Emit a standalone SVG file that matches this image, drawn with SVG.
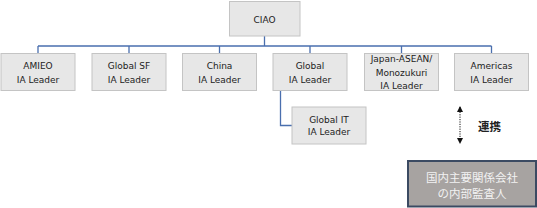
<svg xmlns="http://www.w3.org/2000/svg" width="537" height="208" viewBox="0 0 537 208">
<style>
.box{fill:#e7e7e7;stroke:#c4c4c4;stroke-width:1}
.t{font-family:"DejaVu Sans",Verdana,sans-serif;font-size:9px;fill:#222;text-anchor:middle}
.ln{fill:none;stroke:#4a6fae;stroke-width:1.3}
.jp{font-family:"Noto Sans CJK JP",sans-serif;text-anchor:middle}
</style>
<defs>
<marker id="ah" viewBox="0 0 6 6" refX="5" refY="3" markerWidth="6" markerHeight="6" orient="auto-start-reverse" markerUnits="userSpaceOnUse">
<path d="M0,0 L6,3 L0,6 z" fill="#111"/>
</marker>
</defs>
<g id="connectors">
<path class="ln" d="M264.5,36 V46 M38,46 H491.5 M38,46 V54 M129,46 V54 M219.5,46 V54 M310,46 V54 M401.5,46 V54 M491.5,46 V54"/>
<path class="ln" d="M280.5,90.5 V125.5 H292"/>
<line x1="460" y1="107" x2="460" y2="143" stroke="#111" stroke-width="1" stroke-dasharray="1.2,1.2" marker-start="url(#ah)" marker-end="url(#ah)"/>
</g>
<g id="ciao"><rect class="box" x="229.5" y="1.5" width="70.5" height="34.5"/><text class="t" x="264.5" y="22.5">CIAO</text></g>
<g id="amieo"><rect class="box" x="1" y="53.5" width="74" height="37"/><text class="t" x="38" y="69">AMIEO</text><text class="t" x="38" y="82.5">IA Leader</text></g>
<g id="globalsf"><rect class="box" x="92" y="53.5" width="74" height="37"/><text class="t" x="129" y="69">Global SF</text><text class="t" x="129" y="82.5">IA Leader</text></g>
<g id="china"><rect class="box" x="182.5" y="53.5" width="74" height="37"/><text class="t" x="219.5" y="69">China</text><text class="t" x="219.5" y="82.5">IA Leader</text></g>
<g id="global"><rect class="box" x="273" y="53.5" width="74" height="37"/><text class="t" x="310" y="69">Global</text><text class="t" x="310" y="82.5">IA Leader</text></g>
<g id="japan"><rect class="box" x="364.5" y="53.5" width="74" height="37"/><text class="t" x="401.5" y="61.5">Japan-ASEAN/</text><text class="t" x="401.5" y="75.5">Monozukuri</text><text class="t" x="401.5" y="89">IA Leader</text></g>
<g id="americas"><rect class="box" x="454.5" y="53.5" width="74" height="37"/><text class="t" x="491.5" y="69">Americas</text><text class="t" x="491.5" y="82.5">IA Leader</text></g>
<g id="globalit"><rect class="box" x="292" y="107" width="74" height="37"/><text class="t" x="329" y="122.5">Global IT</text><text class="t" x="329" y="135">IA Leader</text></g>
<g id="renkei"><text class="jp" x="489.5" y="131" font-size="11.5" font-weight="bold" fill="#222">連携</text></g>
<g id="auditors"><rect x="408" y="161" width="128" height="45.5" fill="#a7a3a1" stroke="#3b4a62" stroke-width="2"/><text class="jp" x="472" y="181.5" font-size="11.5" fill="#f2f2f2">国内主要関係会社</text><text class="jp" x="472" y="197.5" font-size="11.5" fill="#f2f2f2">の内部監査人</text></g>
</svg>
